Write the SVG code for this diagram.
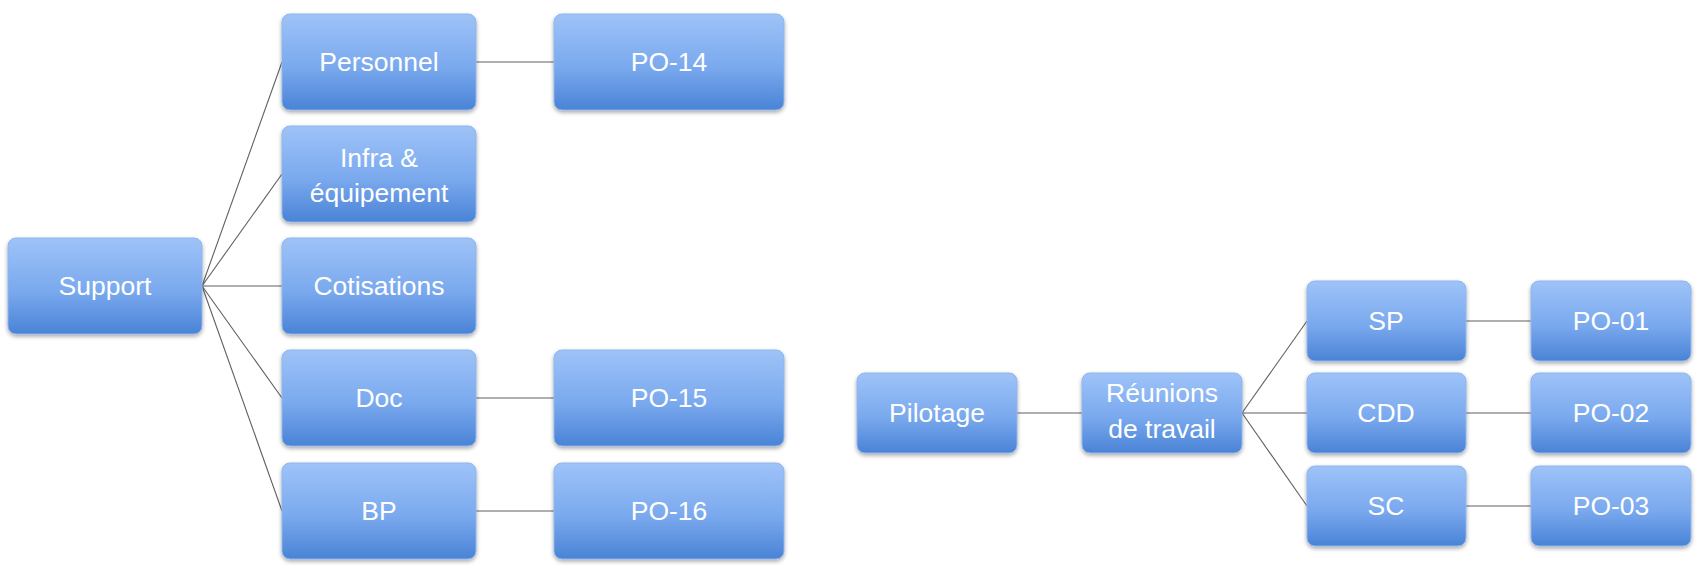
<svg xmlns="http://www.w3.org/2000/svg" width="1697" height="571" viewBox="0 0 1697 571">
<defs>
<linearGradient id="g" x1="0" y1="0" x2="0" y2="1">
<stop offset="0" stop-color="#9ec3f8"/>
<stop offset="0.55" stop-color="#7aa9ee"/>
<stop offset="1" stop-color="#4a83d6"/>
</linearGradient>
<filter id="sh" x="-10%" y="-10%" width="120%" height="130%">
<feGaussianBlur in="SourceAlpha" stdDeviation="2"/>
<feOffset dy="2" result="b"/>
<feComponentTransfer><feFuncA type="linear" slope="0.35"/></feComponentTransfer>
<feMerge><feMergeNode/><feMergeNode in="SourceGraphic"/></feMerge>
</filter>
</defs>
<style>
.box{fill:url(#g);stroke:#8fb4ec;stroke-width:1;filter:url(#sh)}
.t{font-family:"Liberation Sans",Arial,sans-serif;font-size:26.5px;fill:#ffffff;text-anchor:middle}
.c{stroke:#606060;stroke-width:1.1;fill:none}
</style>
<rect width="1697" height="571" fill="#ffffff"/>
<g id="connectors">
<line class="c" x1="202" y1="286" x2="282" y2="62"/>
<line class="c" x1="202" y1="286" x2="282" y2="174"/>
<line class="c" x1="202" y1="286" x2="282" y2="286"/>
<line class="c" x1="202" y1="286" x2="282" y2="398"/>
<line class="c" x1="202" y1="286" x2="282" y2="511"/>
<line class="c" x1="476" y1="62" x2="554" y2="62"/>
<line class="c" x1="476" y1="398" x2="554" y2="398"/>
<line class="c" x1="476" y1="511" x2="554" y2="511"/>
<line class="c" x1="1017" y1="413" x2="1082" y2="413"/>
<line class="c" x1="1242" y1="413" x2="1307" y2="321"/>
<line class="c" x1="1242" y1="413" x2="1307" y2="413"/>
<line class="c" x1="1242" y1="413" x2="1307" y2="506"/>
<line class="c" x1="1466" y1="321" x2="1531" y2="321"/>
<line class="c" x1="1466" y1="413" x2="1531" y2="413"/>
<line class="c" x1="1466" y1="506" x2="1531" y2="506"/>
</g>
<g id="support"><rect class="box" x="8" y="238" width="194" height="96" rx="8"/><text class="t" x="105" y="295">Support</text></g>
<g id="personnel"><rect class="box" x="282" y="14" width="194" height="96" rx="8"/><text class="t" x="379" y="71">Personnel</text></g>
<g id="infra"><rect class="box" x="282" y="126" width="194" height="96" rx="8"/><text class="t" x="379" y="167">Infra &amp;</text><text class="t" x="379" y="202">équipement</text></g>
<g id="cotisations"><rect class="box" x="282" y="238" width="194" height="96" rx="8"/><text class="t" x="379" y="295">Cotisations</text></g>
<g id="doc"><rect class="box" x="282" y="350" width="194" height="96" rx="8"/><text class="t" x="379" y="407">Doc</text></g>
<g id="bp"><rect class="box" x="282" y="463" width="194" height="96" rx="8"/><text class="t" x="379" y="520">BP</text></g>
<g id="po14"><rect class="box" x="554" y="14" width="230" height="96" rx="8"/><text class="t" x="669" y="71">PO-14</text></g>
<g id="po15"><rect class="box" x="554" y="350" width="230" height="96" rx="8"/><text class="t" x="669" y="407">PO-15</text></g>
<g id="po16"><rect class="box" x="554" y="463" width="230" height="96" rx="8"/><text class="t" x="669" y="520">PO-16</text></g>
<g id="pilotage"><rect class="box" x="857" y="373" width="160" height="80" rx="8"/><text class="t" x="937" y="422">Pilotage</text></g>
<g id="reunions"><rect class="box" x="1082" y="373" width="160" height="80" rx="8"/><text class="t" x="1162" y="402">Réunions</text><text class="t" x="1162" y="438">de travail</text></g>
<g id="sp"><rect class="box" x="1307" y="281" width="159" height="80" rx="8"/><text class="t" x="1386" y="330">SP</text></g>
<g id="cdd"><rect class="box" x="1307" y="373" width="159" height="80" rx="8"/><text class="t" x="1386" y="422">CDD</text></g>
<g id="sc"><rect class="box" x="1307" y="466" width="159" height="80" rx="8"/><text class="t" x="1386" y="515">SC</text></g>
<g id="po01"><rect class="box" x="1531" y="281" width="160" height="80" rx="8"/><text class="t" x="1611" y="330">PO-01</text></g>
<g id="po02"><rect class="box" x="1531" y="373" width="160" height="80" rx="8"/><text class="t" x="1611" y="422">PO-02</text></g>
<g id="po03"><rect class="box" x="1531" y="466" width="160" height="80" rx="8"/><text class="t" x="1611" y="515">PO-03</text></g>
</svg>
